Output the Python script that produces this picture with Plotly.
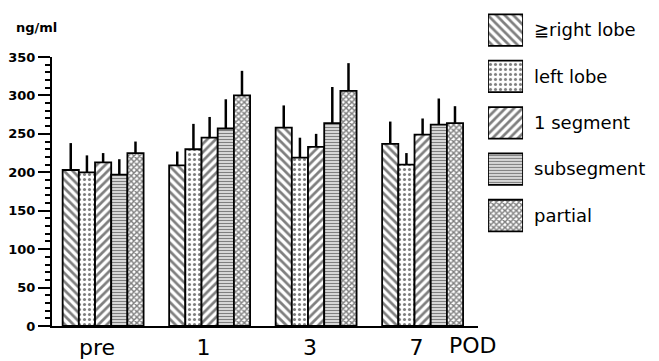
import plotly.graph_objects as go

groups = ["pre", "1", "3", "7"]
series = ["≧right lobe", "left lobe", "1 segment", "subsegment", "partial"]

right_lobe = [203, 209, 258, 237]
left_lobe = [200, 230, 219, 210]
one_segment = [213, 245, 233, 249]
subsegment = [197, 257, 264, 262]
partial = [225, 300, 306, 264]

right_lobe_err = [35, 18, 29, 29]
left_lobe_err = [22, 33, 26, 15]
one_segment_err = [12, 27, 17, 21]
subsegment_err = [20, 38, 47, 34]
partial_err = [15, 32, 36, 22]

values = [right_lobe, left_lobe, one_segment, subsegment, partial]
errors = [right_lobe_err, left_lobe_err, one_segment_err, subsegment_err, partial_err]

patterns = [
    dict(shape="\\", size=6, solidity=0.45),
    dict(shape=".", size=5, solidity=0.3),
    dict(shape="/", size=6, solidity=0.45),
    dict(shape="-", size=3, solidity=0.55),
    dict(shape="x", size=4, solidity=0.6),
]

FONT = "DejaVu Sans"
fig = go.Figure()

for name, vals, errs, pat in zip(series, values, errors, patterns):
    fig.add_trace(go.Bar(
        x=groups, y=vals, name=name,
        marker=dict(color="white", line=dict(color="black", width=1.8),
                    pattern=dict(fgcolor="black", bgcolor="white", **pat)),
        error_y=dict(type="data", symmetric=False, array=errs,
                     arrayminus=[0] * len(errs), color="black",
                     thickness=2.5, width=0),
    ))

# legend swatches drawn as bars on a side axis
fig.add_trace(go.Bar(
    y=series, x=[1] * len(series), orientation="h", width=0.68,
    xaxis="x2", yaxis="y2",
    marker=dict(color="white", line=dict(color="black", width=1.8),
                pattern=dict(fgcolor="black", bgcolor="white",
                             shape=[p["shape"] for p in patterns],
                             size=[p["size"] for p in patterns],
                             solidity=[p["solidity"] for p in patterns])),
))

fig.update_layout(
    width=659, height=361,
    margin=dict(l=52, r=0, t=5, b=35),
    plot_bgcolor="white", paper_bgcolor="white",
    barmode="group", bargap=0.24, bargroupgap=0,
    showlegend=False,
    font=dict(family=FONT, color="black"),
    xaxis=dict(domain=[0, 0.7018], type="category", range=[-0.48, 3.52],
               showline=True, linecolor="black", linewidth=2,
               ticks="", showgrid=False, tickfont=dict(size=22),
               ticklabelshift=-6, ticklabelstandoff=1, automargin=False),
    yaxis=dict(domain=[0, 0.838], range=[0, 350], dtick=50,
               showline=True, linecolor="black", linewidth=2,
               ticks="outside", ticklen=12, tickwidth=2, tickcolor="black",
               minor=dict(dtick=10, ticks="outside", ticklen=5,
                          tickwidth=1.5, tickcolor="black", showgrid=False),
               showgrid=False, zeroline=False, automargin=False,
               tickfont=dict(size=13, weight="bold")),
    xaxis2=dict(domain=[0.7183, 0.776], range=[0, 1], visible=False,
                anchor="y2"),
    yaxis2=dict(domain=[0.272, 0.994], type="category", range=[4.5, -0.5],
                anchor="x2", side="right", showline=False, ticks="",
                showgrid=False, zeroline=False, tickfont=dict(size=18),
                ticklabelstandoff=10, automargin=False),
    annotations=[
        dict(text="ng/ml", x=-0.062, y=0.931, xref="paper", yref="paper",
             xanchor="left", yanchor="middle", showarrow=False,
             font=dict(size=13, weight="bold")),
        dict(text="POD", x=0.6936, y=-0.0623, xref="paper", yref="paper",
             xanchor="center", yanchor="middle", showarrow=False,
             font=dict(size=22)),
    ],
)

fig.write_html("out.html", config={"displayModeBar": False},
               post_script="document.body.style.margin='0';document.body.style.padding='0';")
